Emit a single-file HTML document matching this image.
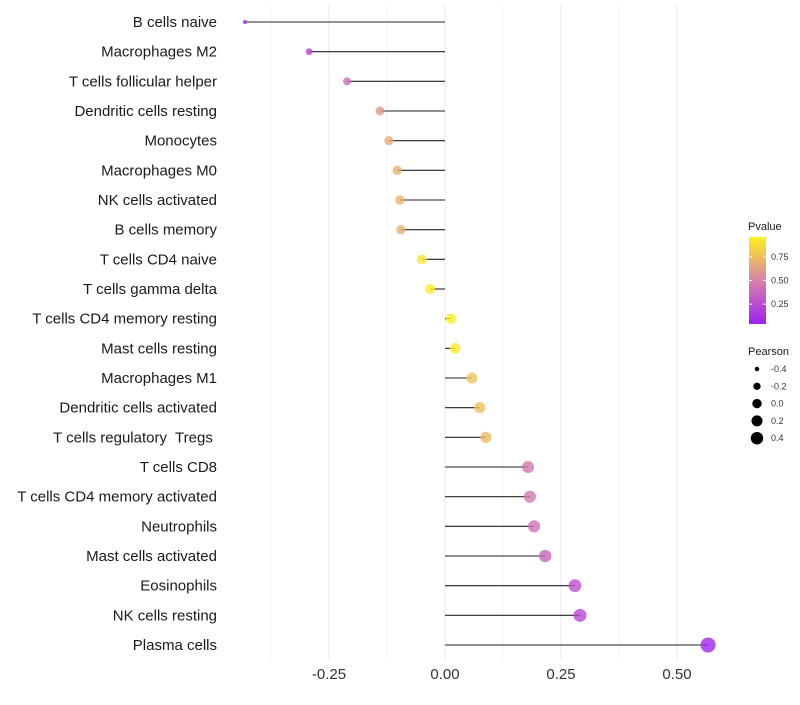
<!DOCTYPE html>
<html><head><meta charset="utf-8"><style>
body{margin:0;background:#fff;font-family:"Liberation Sans",sans-serif}
text{white-space:pre}
</style></head><body>
<svg id="c" width="800" height="700" xmlns="http://www.w3.org/2000/svg">
<defs><linearGradient id="pg" x1="0" y1="1" x2="0" y2="0">
<stop offset="0" stop-color="#A020F0"/><stop offset="0.5" stop-color="#D882A8"/><stop offset="1" stop-color="#FFF020"/>
</linearGradient></defs>
</svg>
<script>
const categories=["B cells naive","Macrophages M2","T cells follicular helper","Dendritic cells resting","Monocytes","Macrophages M0","NK cells activated","B cells memory","T cells CD4 naive","T cells gamma delta","T cells CD4 memory resting","Mast cells resting","Macrophages M1","Dendritic cells activated","T cells regulatory  Tregs ","T cells CD8","T cells CD4 memory activated","Neutrophils","Mast cells activated","Eosinophils","NK cells resting","Plasma cells"];
const pearson=[-0.431,-0.293,-0.211,-0.140,-0.121,-0.103,-0.097,-0.095,-0.050,-0.032,0.013,0.022,0.058,0.075,0.088,0.179,0.183,0.192,0.216,0.280,0.291,0.567];
const pvalue=[0.05,0.2,0.4,0.6,0.68,0.72,0.72,0.72,0.95,0.98,0.99,0.97,0.8,0.78,0.75,0.45,0.45,0.42,0.35,0.25,0.2,0.02];
const xTicks=[-0.25,0,0.25,0.5];
const xTickLabels=["-0.25","0.00","0.25","0.50"];
const minorTicks=[-0.375,-0.125,0.125,0.375];
const sizeLegend=[-0.4,-0.2,0.0,0.2,0.4];
const sizeLegendLabels=["-0.4","-0.2","0.0","0.2","0.4"];
const colorTicks=[0.25,0.5,0.75];
const colorTickLabels=["0.25","0.50","0.75"];

const svg=document.getElementById('c');const NS="http://www.w3.org/2000/svg";
const x=v=>445+v*464;
const y=i=>22+i*(623/21);
const r=v=>Math.sqrt(Math.max(2,27+52*v));
function col(p){const s=[[160,32,240],[216,130,168],[255,240,32]];let a,b,t;if(p<0.5){a=s[0];b=s[1];t=p/0.5}else{a=s[1];b=s[2];t=(p-0.5)/0.5}
return `rgb(${a.map((c,k)=>Math.round(c+(b[k]-c)*t)).join(',')})`;}
function el(tag,attrs,txt){const e=document.createElementNS(NS,tag);for(const k in attrs)e.setAttribute(k,attrs[k]);if(txt!=null)e.textContent=txt;svg.appendChild(e);return e;}
minorTicks.forEach(v=>{const e=el('line',{x1:x(v),x2:x(v),y1:5,y2:660,stroke:'#ebebeb','stroke-width':0.6});

});
xTicks.forEach((v,i)=>{const g=el('line',{x1:x(v),x2:x(v),y1:5,y2:660,stroke:'#ebebeb','stroke-width':1.1});


const t=el('text',{x:x(v),y:679,'text-anchor':'middle','font-size':15,fill:'#333'},xTickLabels[i]);

});
categories.forEach((c,i)=>{
const t=el('text',{x:217,y:y(i)+5,'text-anchor':'end','font-size':15,fill:'#1a1a1a'},c);


const l=el('line',{x1:x(0),x2:x(pearson[i]),y1:y(i),y2:y(i),stroke:'#222','stroke-width':1.1});


const d=el('circle',{cx:x(pearson[i]),cy:y(i),r:r(pearson[i]),fill:col(pvalue[i]),'fill-opacity':0.8});


});
let t=el('text',{x:748,y:230,'font-size':11,fill:'#1a1a1a'},'Pvalue');


const cb=el('rect',{x:749,y:237,width:17,height:87,fill:'url(#pg)'});


const cy=p=>324-(p-0.04)/0.92*87;
colorTicks.forEach((p,i)=>{el('line',{x1:749,x2:752,y1:cy(p),y2:cy(p),stroke:'#fff'});el('line',{x1:763,x2:766,y1:cy(p),y2:cy(p),stroke:'#fff'});
const tt=el('text',{x:771,y:cy(p)+3,'font-size':9,fill:'#333'},colorTickLabels[i]);

});
t=el('text',{x:748,y:355,'font-size':11,fill:'#1a1a1a'},'Pearson');


sizeLegend.forEach((v,i)=>{const yy=369+i*17.3;
const d=el('circle',{cx:757,cy:yy,r:r(v)*0.9,fill:'#000'});


const tt=el('text',{x:771,y:yy+3,'font-size':9,fill:'#333'},sizeLegendLabels[i]);

});
</script>
</body></html>
